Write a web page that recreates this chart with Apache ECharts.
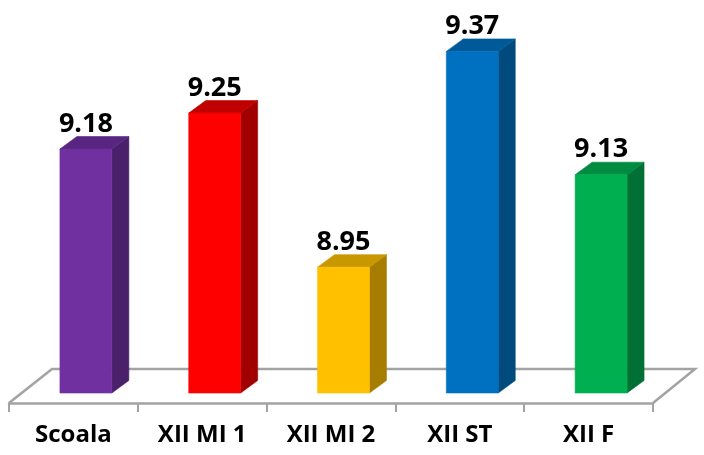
<!DOCTYPE html>
<html>
<head>
<meta charset="utf-8">
<style>html,body{margin:0;padding:0;background:#fff}#c{width:704px;height:455px}</style>
<script src="https://cdn.jsdelivr.net/npm/echarts@6/dist/echarts.min.js"></script>
</head>
<body>
<div id="c"></div>
<script>
var categories = ['Scoala', 'XII MI 1', 'XII MI 2', 'XII ST', 'XII F'];
var values = [9.18, 9.25, 8.95, 9.37, 9.13];
var frontColors = ['#7030A0', '#FF0000', '#FFC000', '#0070C0', '#00B050'];
var topColors = ['#582680', '#C00000', '#C99700', '#005A9A', '#008C40'];
var sideColors = ['#492069', '#A00000', '#A67D00', '#004A7E', '#007034'];
var FONT = '"Open Sans", "Noto Sans", sans-serif';
var DX = 17, DY = 12.5;

var chart = echarts.init(document.getElementById('c'), null, {renderer: 'canvas'});

function renderFloor(params, api) {
  var g = params.coordSys;
  var bottom = g.y + g.height + 10, left = g.x, right = g.x + g.width;
  return {
    type: 'polyline', silent: true,
    shape: {points: [[left, bottom], [left + 43, bottom - 34], [right + 42, bottom - 34], [right, bottom]]},
    style: {fill: 'none', stroke: '#A3A3A3', lineWidth: 2.5}
  };
}

function renderBar(params, api) {
  var i = api.value(0), v = api.value(1);
  var p = api.coord([i, v]);
  var band = api.size([1, 0])[0];
  var w = band * 0.403;
  var x0 = p[0] + band * 0.097 - w / 2, x1 = x0 + w;
  var yTop = p[1];
  var yBot = params.coordSys.y + params.coordSys.height;
  function poly(points, fill) {
    return {type: 'polygon', shape: {points: points},
      style: {fill: fill, stroke: fill, lineWidth: 0.6}};
  }
  return {
    type: 'group',
    children: [
      poly([[x1, yTop], [x1 + DX, yTop - DY], [x1 + DX, yBot - DY], [x1, yBot]], sideColors[i]),
      poly([[x0, yTop], [x0 + DX, yTop - DY], [x1 + DX, yTop - DY], [x1, yTop]], topColors[i]),
      poly([[x0, yTop], [x1, yTop], [x1, yBot], [x0, yBot]], frontColors[i]),
      {type: 'text', style: {
        x: x0 + w / 2, y: yTop - 25,
        text: v.toFixed(2), fill: '#000',
        font: 'bold 27px ' + FONT, align: 'center', verticalAlign: 'middle'
      }}
    ]
  };
}

chart.setOption({
  animation: false,
  backgroundColor: '#fff',
  grid: {left: 9, top: 36, width: 644, height: 357, containLabel: false},
  xAxis: {
    type: 'category', data: categories, offset: 10,
    axisLine: {lineStyle: {color: '#A3A3A3', width: 2.5}},
    axisTick: {show: true, alignWithLabel: false, length: 9, lineStyle: {color: '#A3A3A3', width: 2}},
    axisLabel: {color: '#000', fontWeight: 'bold', fontSize: 24, fontFamily: FONT, margin: 20}
  },
  yAxis: {type: 'value', min: 8.705, max: 9.4, show: false, splitLine: {show: false}},
  series: [
    {type: 'custom', renderItem: renderFloor, data: [[0, 0]], clip: false, silent: true, z: 1},
    {type: 'custom', renderItem: renderBar, clip: false, z: 2,
      encode: {x: 0, y: 1},
      data: values.map(function (v, i) { return [i, v]; })}
  ]
});
</script>
</body>
</html>
